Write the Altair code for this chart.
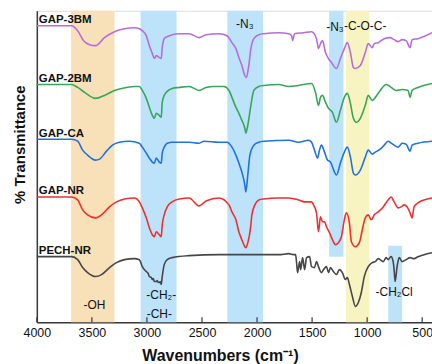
import altair as alt
import pandas as pd

# ---------------- data ----------------
names = ["GAP-3BM", "GAP-2BM", "GAP-CA", "GAP-NR", "PECH-NR"]
offsets = [298, 239, 184, 126, 66]
colors = ["#B56CE0", "#38A559", "#2271E0", "#EF2F2F", "#464646"]

wn_3bm = [4000, 3684, 3629, 3575, 3521, 3467, 3385, 3295, 3204, 3114, 3069, 3042, 3006, 2978, 2951, 2933, 2915,
          2888, 2870, 2861, 2843, 2816, 2771, 2707, 2617, 2526, 2463, 2346, 2273, 2228, 2192, 2165, 2138, 2111,
          2097, 2075, 2056, 2029, 1984, 1939, 1803, 1713, 1686, 1677, 1659, 1577, 1505, 1460, 1442, 1424, 1406,
          1378, 1351, 1324, 1279, 1243, 1207, 1180, 1152, 1125, 1107, 1062, 1017, 990, 954, 935, 899, 845, 791,
          755, 718, 682, 646, 610, 592, 538, 411]
t_3bm = [0, 0, -5, -15, -19, -20, -12, -6, -3, -2, -3, -5, -10, -20, -28, -33, -30,
         -32, -33, -22, -13, -11, -9, -8, -8, -12, -9, -8, -10, -17, -23, -32, -40, -50,
         -52, -40, -23, -13, -9, -8, -7, -8, -10, -15, -8, -7, -6, -13, -23, -18, -15,
         -27, -33, -37, -43, -33, -23, -17, -27, -42, -43, -40, -27, -18, -22, -18, -17, -13, -12,
         -14, -16, -14, -15, -22, -14, -13, -7]

wn_2bm = [4000, 3684, 3629, 3566, 3467, 3385, 3295, 3186, 3114, 3069, 3042, 3006, 2978, 2951, 2933, 2915, 2888,
          2870, 2861, 2843, 2816, 2771, 2707, 2617, 2526, 2463, 2391, 2300, 2255, 2228, 2192, 2165, 2138, 2111,
          2102, 2084, 2056, 2029, 1984, 1939, 1803, 1713, 1623, 1505, 1469, 1442, 1424, 1406, 1378, 1351, 1315,
          1279, 1243, 1207, 1180, 1152, 1125, 1098, 1062, 1017, 990, 954, 926, 881, 827, 782, 737, 682, 628,
          610, 592, 538, 411]
t_2bm = [0, 0, -3, -8, -14, -11, -6, -3, -2, -2, -6, -14, -23, -31, -34, -29, -31,
         -33, -18, -11, -7, -4, -3, -2, -6, -3, -2, -2, -6, -13, -23, -29, -36, -44,
         -49, -41, -21, -6, -2, -1, 0, -2, -1, 1, -8, -21, -13, -11, -18, -24, -28,
         -38, -26, -13, -9, -19, -34, -38, -34, -21, -11, -16, -13, -6, 0, -3, -6, -5, -6,
         -13, -6, -3, 1]

wn_ca = [4000, 3684, 3629, 3584, 3539, 3467, 3430, 3367, 3313, 3250, 3159, 3069, 3042, 3006, 2978, 2951, 2933,
         2915, 2888, 2870, 2861, 2843, 2816, 2771, 2617, 2526, 2481, 2346, 2273, 2228, 2192, 2165, 2138, 2111,
         2102, 2084, 2065, 2029, 1984, 1939, 1713, 1623, 1532, 1505, 1478, 1451, 1433, 1415, 1387, 1360, 1333,
         1297, 1279, 1243, 1207, 1180, 1152, 1125, 1107, 1062, 1017, 990, 954, 926, 881, 845, 810, 782, 755,
         718, 682, 646, 610, 592, 538, 411]
t_ca = [0, 0, -2, -11, -16, -21, -20, -12, -6, -3, -2, -4, -8, -14, -19, -23, -24,
        -19, -23, -24, -14, -8, -4, -3, -3, -4, -2, -3, -3, -8, -16, -24, -33, -46,
        -53, -36, -16, -6, -3, -2, -1, -3, -1, -3, -11, -19, -11, -6, -13, -21, -23,
        -33, -36, -24, -13, -8, -18, -34, -36, -31, -18, -11, -15, -13, -10, -6, -2, -4, -6,
        -8, -4, -5, -12, -6, -4, -2]

wn_nr = [4000, 3684, 3629, 3584, 3539, 3467, 3412, 3340, 3277, 3204, 3114, 3069, 3042, 3006, 2978, 2951, 2933,
         2915, 2888, 2870, 2861, 2843, 2816, 2771, 2707, 2617, 2526, 2463, 2346, 2255, 2228, 2192, 2165, 2138,
         2111, 2102, 2084, 2056, 2047, 2020, 1984, 1939, 1803, 1713, 1623, 1568, 1505, 1487, 1460, 1442, 1424,
         1406, 1387, 1369, 1342, 1315, 1288, 1261, 1234, 1207, 1189, 1161, 1143, 1107, 1071, 1044, 1017, 990,
         963, 935, 899, 854, 810, 782, 755, 718, 691, 664, 637, 610, 592, 574, 538, 484, 411]
t_nr = [0, 0, -3, -13, -18, -21, -18, -10, -5, -2, -1, -5, -11, -21, -31, -38, -40,
        -35, -38, -40, -28, -18, -10, -5, -2, -1, -9, -4, -1, -8, -15, -23, -35, -43,
        -50, -51, -46, -28, -18, -8, -3, -2, -1, -1, -3, -5, -5, -8, -16, -35, -20,
        -25, -25, -30, -36, -43, -48, -46, -40, -23, -16, -26, -45, -50, -46, -33, -21, -18,
        -23, -18, -15, -10, -3, 0, -5, -11, -10, -8, -10, -16, -21, -10, -6, -3, -1]

wn_pech = [4000, 3684, 3629, 3584, 3539, 3467, 3412, 3340, 3277, 3204, 3114, 3069, 3042, 3006, 2988, 2978, 2960,
           2951, 2942, 2933, 2915, 2906, 2897, 2888, 2879, 2870, 2861, 2843, 2816, 2771, 2617, 2346, 2000, 1803,
           1713, 1659, 1650, 1641, 1632, 1613, 1604, 1586, 1568, 1550, 1523, 1505, 1478, 1460, 1442, 1415, 1396,
           1369, 1351, 1333, 1306, 1279, 1252, 1225, 1198, 1180, 1161, 1134, 1107, 1080, 1053, 1026, 990, 954,
           926, 899, 854, 827, 810, 782, 764, 755, 746, 728, 709, 682, 646, 610, 574, 538, 484, 411]
t_pech = [0, 0, -3, -11, -16, -20, -18, -11, -6, -3, -2, -3, -10, -15, -17, -20, -21,
          -23, -22, -25, -25, -24, -26, -26, -25, -28, -20, -8, -3, -1, 1, 2, 2, 2,
          3, 2, 2, -6, -16, -5, -13, -1, -13, -1, 0, -10, -11, -5, -10, -16, -13,
          -10, -16, -11, -15, -18, -13, -16, -23, -21, -28, -40, -50, -46, -36, -20, -10, -6,
          -5, -2, -5, -1, -3, 0, -5, -13, -25, -10, -1, -5, -3, -1, -2, 0, 2, 4]

series_wn = [wn_3bm, wn_2bm, wn_ca, wn_nr, wn_pech]
series_t = [t_3bm, t_2bm, t_ca, t_nr, t_pech]

# shaded assignment bands (cm-1) and their vertical extent (plot units)
band_start = [3690, 3057, 2270, 1345, 1191, 808]
band_end = [3295, 2731, 1945, 1215, 980, 682]
band_top = [313, 313, 313, 313, 313, 77]
band_bottom = [0, 0, 0, 66, 0, 0]
band_colors = ["#F8E0B9", "#BCE3F9", "#BCE3F9", "#BCE3F9", "#F8F4C2", "#BCE3F9"]

ann_text = ["-OH", "-CH₂-", "-CH-", "-N₃", "-N₃", "-C-O-C-", "-CH₂Cl"]
ann_wn = [3476, 2870, 2888, 2111, 1292, 1018, 755]
ann_level = [17, 27, 8, 300, 297, 298, 30]

tick_values = [4000, 3500, 3000, 2500, 2000, 1500, 1000, 500]

# ---------------- tables ----------------
rows = []
for name, off, wns, ts in zip(names, offsets, series_wn, series_t):
    for w, t in zip(wns, ts):
        rows.append({"series": name, "wn": w, "T": off + t})
df = pd.DataFrame(rows)

bands = pd.DataFrame({"x1": band_start, "x2": band_end, "y1": band_bottom,
                      "y2": band_top, "c": band_colors})
ann = pd.DataFrame({"text": ann_text, "wn": ann_wn, "y": ann_level})
labels = pd.DataFrame({"series": names, "wn": [4000] * 5, "y": [o + 2.5 for o in offsets]})
ticks = pd.DataFrame({"t": tick_values})

W, H = 397, 313
FONT = "Liberation Sans"

xscale = alt.Scale(domain=[411, 4000], reverse=True, nice=False, zero=False)
yscale = alt.Scale(domain=[0, 313], nice=False, zero=False)

xax = alt.Axis(values=tick_values, format="d", ticks=False, tickSize=0, grid=False, labelFlush=False,
               labelFontSize=12.5, labelColor="#111", labelPadding=4, labelFont=FONT,
               domainColor="#3a3a3a", domainWidth=1.5,
               title="Wavenumbers (cm⁻¹)", titleFontSize=16, titleFontWeight="bold",
               titleFont=FONT, titleColor="#111", titleX=184, titleY=38,
               titleAlign="center", titleBaseline="alphabetic")
yax = alt.Axis(labels=False, ticks=False, tickSize=0, grid=False,
               domainColor="#3a3a3a", domainWidth=1.5,
               title="% Transmittance", titleFontSize=15, titleFontWeight="bold",
               titleFont=FONT, titleColor="#111", titleX=-17, titleY=134,
               titleAngle=-90, titleAlign="center", titleBaseline="middle")

band_layer = alt.Chart(bands).mark_rect(opacity=1).encode(
    x=alt.X("x1:Q", scale=xscale, axis=xax),
    x2="x2:Q",
    y=alt.Y("y1:Q", scale=yscale, axis=yax),
    y2="y2:Q",
    color=alt.Color("c:N", scale=None),
)

line_layer = alt.Chart(df).mark_line(strokeWidth=1.6, interpolate="monotone").encode(
    x=alt.X("wn:Q", scale=xscale),
    y=alt.Y("T:Q", scale=yscale),
    color=alt.Color("series:N", scale=alt.Scale(domain=names, range=colors), legend=None),
    detail="series:N",
)

tick_layer = alt.Chart(ticks).mark_rule(color="#3a3a3a", strokeWidth=1.2).encode(
    x=alt.X("t:Q", scale=xscale),
    y=alt.value(H),
    y2=alt.value(H - 5),
)

label_layer = alt.Chart(labels).mark_text(align="left", baseline="alphabetic", dx=2,
                                          fontSize=11.5, fontWeight="bold", font=FONT,
                                          color="#111").encode(
    x=alt.X("wn:Q", scale=xscale),
    y=alt.Y("y:Q", scale=yscale),
    text="series:N",
)

ann_layer = alt.Chart(ann).mark_text(align="center", baseline="middle", fontSize=12,
                                     font=FONT, color="#111").encode(
    x=alt.X("wn:Q", scale=xscale),
    y=alt.Y("y:Q", scale=yscale),
    text="text:N",
)

chart = alt.layer(band_layer, line_layer, tick_layer, label_layer, ann_layer).properties(
    width=W, height=H,
    autosize=alt.AutoSizeParams(type="none"),
    padding={"left": 37, "top": 10, "right": 0, "bottom": 41},
).configure_view(stroke="#3a3a3a", strokeWidth=1.5).configure(background="white")

chart.save("out.html", embed_options={"renderer": "svg", "actions": False})
